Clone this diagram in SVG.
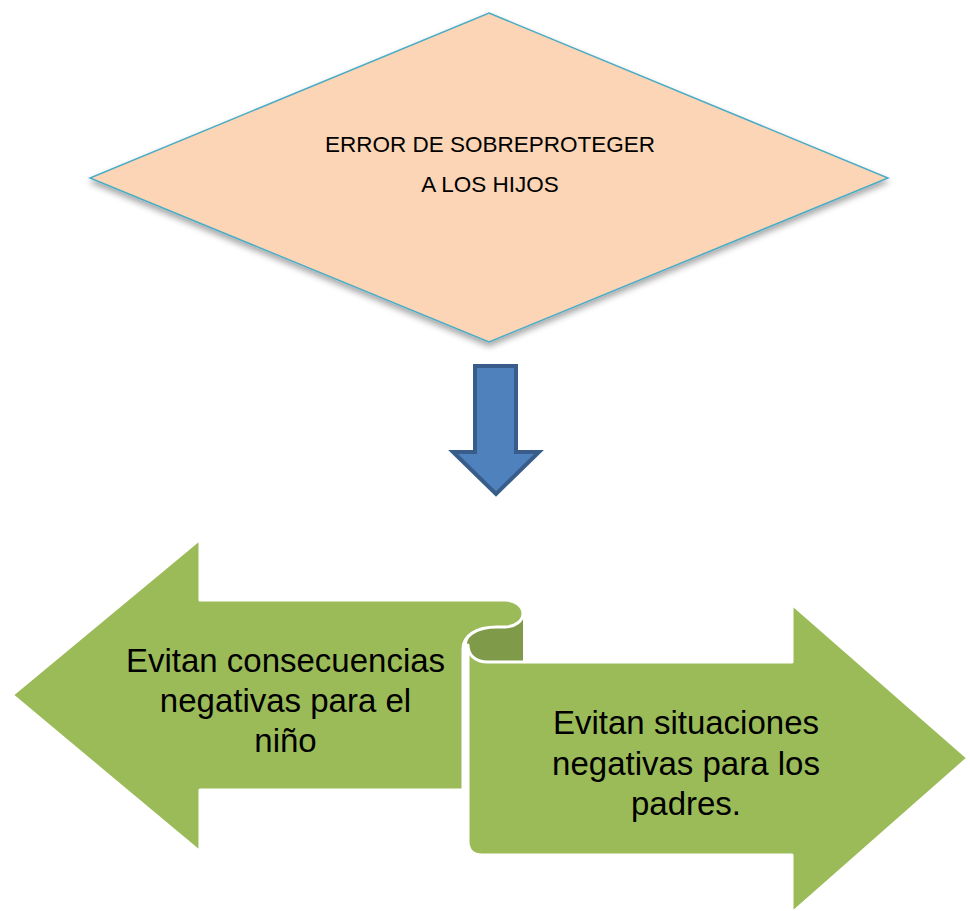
<svg xmlns="http://www.w3.org/2000/svg" width="970" height="911" viewBox="0 0 970 911">
  <defs>
    <filter id="shadow" x="-10%" y="-10%" width="120%" height="130%">
      <feDropShadow dx="0" dy="4" stdDeviation="3" flood-color="#000" flood-opacity="0.35"/>
    </filter>
  </defs>
  <style>
    .diamond { fill: #FBD5B5; stroke: #4BACC6; stroke-width: 1.5; }
    .blue { fill: #4F81BD; stroke: #385D8A; stroke-width: 4; stroke-linejoin: miter; }
    .green { fill: #9BBB59; stroke: #FFFFFF; stroke-width: 3; stroke-linejoin: round; }
    .fold { fill: #7F9A48; }
    .t1 { font-family: "Liberation Sans", Arial, sans-serif; font-size: 22.5px; fill: #000; text-anchor: middle; }
    .t2 { font-family: "Liberation Sans", Arial, sans-serif; font-size: 33px; fill: #000; text-anchor: middle; }
  </style>
  <rect width="970" height="911" fill="#FFFFFF"/>

  <g id="diamond-node">
    <polygon class="diamond" filter="url(#shadow)" points="489,13 888,178 489,342 90,178"/>
    <text class="t1" x="490" y="152">ERROR DE SOBREPROTEGER</text>
    <text class="t1" x="490" y="192">A LOS HIJOS</text>
  </g>

  <g id="connectors">
    <path class="blue" d="M475,366 L516,366 L516,452 L539,452 L496,494 L453,452 L475,452 Z"/>
  </g>

  <g id="ribbon-node">
    <path class="fold" d="M523,613 L523,662 L488,662 C474,662 467,654 467,645 C467,635 478,627 495,627 L505,627 Z"/>
    <path class="green" d="M488,662 L792,662 L792,604 L968,758 L792,913 L792,855 L482,855 Q468,855 468,841 L468,645 C468,654 474,662 488,662 Z"/>
    <path class="green" d="M12,695 L200,539 L200,600 L505,600 A18,13.5 0 0 1 505,627 L497,627 C476,627 463,636 463,649 L463,790 L200,790 L200,852 Z"/>
  </g>

  <g id="left-text">
    <text class="t2" x="285.5" y="672">Evitan consecuencias</text>
    <text class="t2" x="285.5" y="712">negativas para el</text>
    <text class="t2" x="285.5" y="752">niño</text>
  </g>
  <g id="right-text">
    <text class="t2" x="686" y="734">Evitan situaciones</text>
    <text class="t2" x="686" y="775">negativas para los</text>
    <text class="t2" x="686" y="815">padres.</text>
  </g>
</svg>
